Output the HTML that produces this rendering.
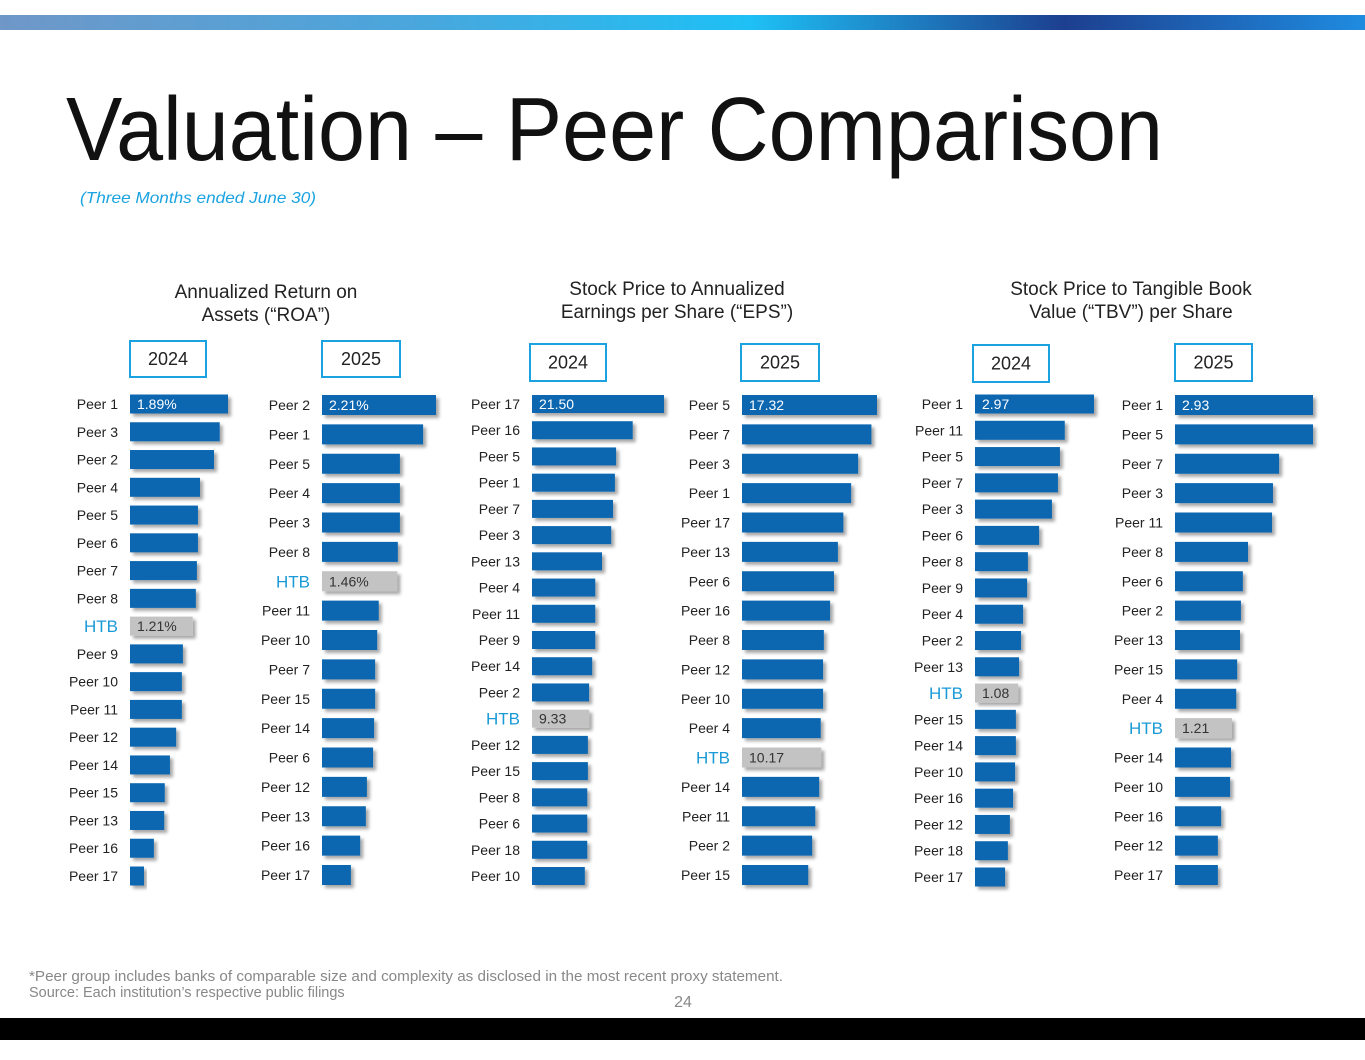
<!DOCTYPE html>
<html><head><meta charset="utf-8">
<style>
html,body{margin:0;padding:0;background:#fff;}
body{width:1365px;height:1055px;overflow:hidden;font-family:"Liberation Sans",sans-serif;}
</style></head>
<body>
<svg id="s" width="1365" height="1055" viewBox="0 0 1365 1055" xmlns="http://www.w3.org/2000/svg">
<defs>
<linearGradient id="tg" x1="0" x2="1" y1="0" y2="0">
<stop offset="0" stop-color="#6f97c8"/><stop offset="0.3" stop-color="#4aa6dc"/><stop offset="0.55" stop-color="#1ec0f5"/><stop offset="0.78" stop-color="#1d3f8f"/><stop offset="1" stop-color="#1f8ce0"/>
</linearGradient>
<filter id="sh" x="-10%" y="-20%" width="130%" height="160%"><feDropShadow dx="3" dy="3" stdDeviation="1.5" flood-color="#000" flood-opacity="0.35"/></filter>
</defs>
<rect x="0" y="15" width="1365" height="15" fill="url(#tg)"/>
<text x="66" y="160" font-size="90" fill="#111" textLength="1097" lengthAdjust="spacingAndGlyphs">Valuation – Peer Comparison</text>
<text x="80" y="203" font-size="16" font-style="italic" fill="#1aa3e0" textLength="236" lengthAdjust="spacingAndGlyphs">(Three Months ended June 30)</text>
<g font-size="19" fill="#222" text-anchor="middle" font-weight="500"><text x="266" y="298">Annualized Return on</text><text x="266" y="321">Assets (“ROA”)</text></g>
<g font-size="19" fill="#222" text-anchor="middle" font-weight="500"><text x="677" y="295">Stock Price to Annualized</text><text x="677" y="318">Earnings per Share (“EPS”)</text></g>
<g font-size="19" fill="#222" text-anchor="middle" font-weight="500"><text x="1131" y="295">Stock Price to Tangible Book</text><text x="1131" y="318">Value (“TBV”) per Share</text></g>
<g id="charts"></g>
<text x="29" y="981" font-size="14.5" fill="#888" textLength="754" lengthAdjust="spacingAndGlyphs">*Peer group includes banks of comparable size and complexity as disclosed in the most recent proxy statement.</text>
<text x="29" y="997" font-size="14.5" fill="#888">Source: Each institution’s respective public filings</text>
<text x="683" y="1007" font-size="16" fill="#888" text-anchor="middle">24</text>
<rect x="0" y="1018" width="1365" height="22" fill="#000"/>
</svg>
<script>
const roa24Labels=["Peer 1","Peer 3","Peer 2","Peer 4","Peer 5","Peer 6","Peer 7","Peer 8","HTB","Peer 9","Peer 10","Peer 11","Peer 12","Peer 14","Peer 15","Peer 13","Peer 16","Peer 17"];
const roa24Values=[1.89,1.73,1.62,1.35,1.31,1.31,1.29,1.27,1.21,1.02,1.00,1.00,0.89,0.77,0.67,0.66,0.46,0.27];
const roa25Labels=["Peer 2","Peer 1","Peer 5","Peer 4","Peer 3","Peer 8","HTB","Peer 11","Peer 10","Peer 7","Peer 15","Peer 14","Peer 6","Peer 12","Peer 13","Peer 16","Peer 17"];
const roa25Values=[2.21,1.96,1.51,1.51,1.51,1.47,1.46,1.10,1.07,1.03,1.03,1.01,0.99,0.87,0.85,0.74,0.56];
const eps24Labels=["Peer 17","Peer 16","Peer 5","Peer 1","Peer 7","Peer 3","Peer 13","Peer 4","Peer 11","Peer 9","Peer 14","Peer 2","HTB","Peer 12","Peer 15","Peer 8","Peer 6","Peer 18","Peer 10"];
const eps24Values=[21.50,16.4,13.7,13.5,13.2,12.9,11.4,10.3,10.3,10.3,9.8,9.3,9.33,9.1,9.1,9.0,9.0,9.0,8.6];
const eps25Labels=["Peer 5","Peer 7","Peer 3","Peer 1","Peer 17","Peer 13","Peer 6","Peer 16","Peer 8","Peer 12","Peer 10","Peer 4","HTB","Peer 14","Peer 11","Peer 2","Peer 15"];
const eps25Values=[17.32,16.6,14.9,14.0,13.0,12.3,11.8,11.3,10.5,10.4,10.4,10.1,10.17,9.9,9.4,9.0,8.5];
const tbv24Labels=["Peer 1","Peer 11","Peer 5","Peer 7","Peer 3","Peer 6","Peer 8","Peer 9","Peer 4","Peer 2","Peer 13","HTB","Peer 15","Peer 14","Peer 10","Peer 16","Peer 12","Peer 18","Peer 17"];
const tbv24Values=[2.97,2.24,2.12,2.07,1.92,1.60,1.32,1.30,1.20,1.15,1.10,1.08,1.02,1.02,1.00,0.95,0.87,0.82,0.75];
const tbv25Labels=["Peer 1","Peer 5","Peer 7","Peer 3","Peer 11","Peer 8","Peer 6","Peer 2","Peer 13","Peer 15","Peer 4","HTB","Peer 14","Peer 10","Peer 16","Peer 12","Peer 17"];
const tbv25Values=[2.93,2.93,2.21,2.08,2.06,1.55,1.44,1.40,1.38,1.32,1.30,1.21,1.19,1.17,0.98,0.91,0.91];
const roa24Printed=["1.89%","","","","","","","","1.21%"];
const roa25Printed=["2.21%","","","","","","1.46%"];
const eps24Printed={0:"21.50",12:"9.33"};
const eps25Printed={0:"17.32",12:"10.17"};
const tbv24Printed={0:"2.97",11:"1.08"};
const tbv25Printed={0:"2.93",11:"1.21"};

const NS="http://www.w3.org/2000/svg";
const root=document.getElementById('charts');
function mk(tag,attrs,parent){const e=document.createElementNS(NS,tag);for(const k in attrs)e.setAttribute(k,attrs[k]);parent.appendChild(e);return e;}
const specs=[
 {id:"roa-2024",labels:roa24Labels,values:roa24Values,printed:roa24Printed,x0:130,y0:404,y1:876,maxPx:98,bh:19,box:[130,341,76,36]},
 {id:"roa-2025",labels:roa25Labels,values:roa25Values,printed:roa25Printed,x0:322,y0:405,y1:875,maxPx:114,bh:20,box:[322,341,78,36]},
 {id:"eps-2024",labels:eps24Labels,values:eps24Values,printed:eps24Printed,x0:532,y0:404,y1:876,maxPx:132,bh:18,box:[530,344,76,37]},
 {id:"eps-2025",labels:eps25Labels,values:eps25Values,printed:eps25Printed,x0:742,y0:405,y1:875,maxPx:135,bh:20,box:[741,344,78,37]},
 {id:"tbv-2024",labels:tbv24Labels,values:tbv24Values,printed:tbv24Printed,x0:975,y0:404,y1:877,maxPx:119,bh:19,box:[973,345,76,37]},
 {id:"tbv-2025",labels:tbv25Labels,values:tbv25Values,printed:tbv25Printed,x0:1175,y0:405,y1:875,maxPx:138,bh:20,box:[1175,344,77,37]}
];
specs.forEach(sp=>{
 const g=mk('g',{},root);
 
 
 const b=sp.box;
 const bx=mk('rect',{x:b[0],y:b[1],width:b[2],height:b[3],fill:'#fff',stroke:'#1aa3e0','stroke-width':2},g);
 
 
 const yt=mk('text',{x:b[0]+b[2]/2,y:b[1]+b[3]/2+6,'font-size':18,fill:'#222','text-anchor':'middle'},g);
 yt.textContent=sp.id.slice(-4);
 
 
 const maxV=sp.values[0];
 const xs=v=>v/maxV*sp.maxPx;
 const n=sp.labels.length;
 const step=(sp.y1-sp.y0)/(n-1);
 const ys=i=>sp.y0+i*step;
 sp.labels.forEach((lab,i)=>{
  const cy=ys(i), htb=lab==="HTB";
  const r=mk('rect',{x:sp.x0,y:cy-sp.bh/2,width:xs(sp.values[i]),height:sp.bh,fill:htb?'#c3c3c3':'#0866b0',filter:'url(#sh)'},g);
  
  
  const t=mk('text',{x:sp.x0-12,y:cy+(htb?6:5),'font-size':htb?17:14,fill:htb?'#1a9ad6':'#222','text-anchor':'end'},g);
  t.textContent=lab;
  
  
  const pv=sp.printed[i];
  if(pv){
   const vt=mk('text',{x:sp.x0+7,y:cy+5,'font-size':14,fill:htb?'#333':'#fff'},g);
   vt.textContent=pv;
   
   
  }
 });
});
</script>
</body></html>
